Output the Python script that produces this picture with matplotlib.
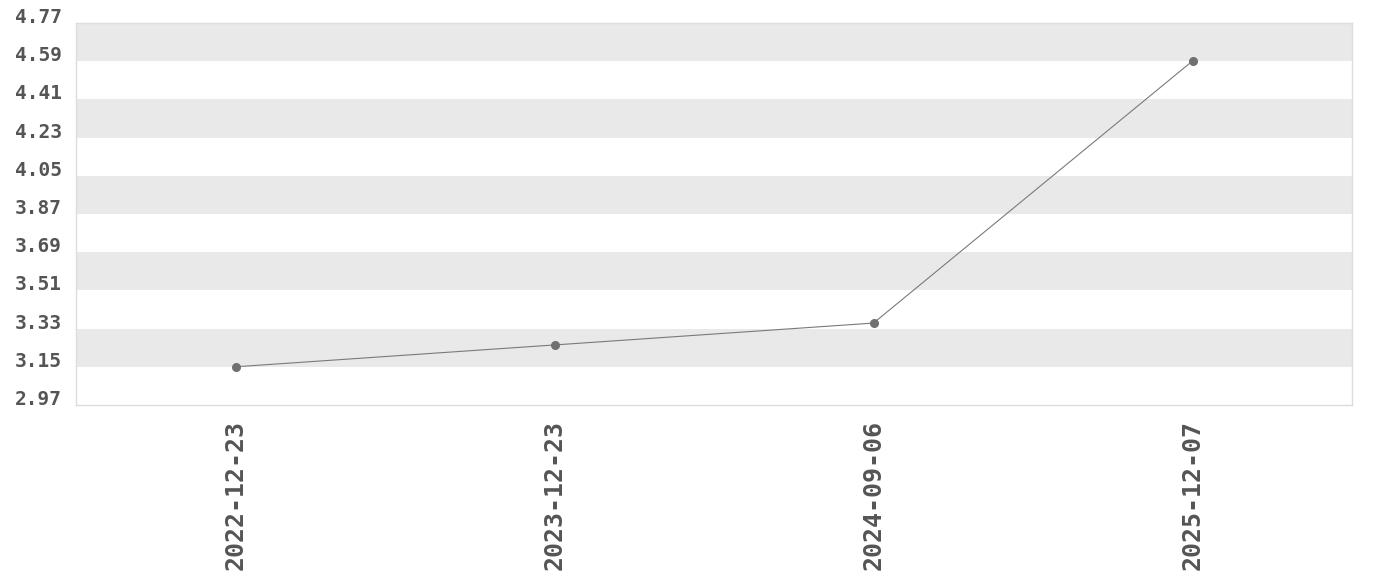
import numpy as np
import matplotlib
matplotlib.use("Agg")
import matplotlib.pyplot as plt

# data
dates = ["2022-12-23", "2023-12-23", "2024-09-06", "2025-12-07"]
values = [3.15, 3.253, 3.356, 4.591]
y_ticks = [2.97, 3.15, 3.33, 3.51, 3.69, 3.87, 4.05, 4.23, 4.41, 4.59, 4.77]

plt.rcParams["font.family"] = ["DejaVu Sans Mono", "DejaVu Sans"]
plt.rcParams["font.weight"] = "bold"

fig = plt.figure(figsize=(13.8, 5.8), dpi=100)
ax = fig.add_axes([76 / 1380, 1 - 405 / 580, 1276 / 1380, 382 / 580])

# alternating horizontal bands, gray on every other interval from the top
for i in range(len(y_ticks) - 1):
    if (len(y_ticks) - 2 - i) % 2 == 0:
        ax.axhspan(y_ticks[i], y_ticks[i + 1], color="#e9e9e9", lw=0, zorder=0)

x = np.arange(len(dates))
ax.plot(x, values, color="#7a7a7a", lw=0.8, marker="o", markersize=5.5,
        markerfacecolor="#707070", markeredgecolor="#707070", zorder=3)

ax.set_xlim(-0.5, len(dates) - 0.5)
ax.set_ylim(y_ticks[0], y_ticks[-1])
ax.set_yticks(y_ticks)
ax.set_yticklabels([f"{t:.2f}" for t in y_ticks], va="baseline")
ax.set_xticks(x)
ax.set_xticklabels(dates, rotation=90)

ax.tick_params(axis="y", length=0, pad=10, labelsize=14, labelcolor="#555555")
ax.tick_params(axis="x", length=0, pad=11, labelsize=18, labelcolor="#555555")

for side in ["left", "right", "top", "bottom"]:
    ax.spines[side].set_color("#dddddd")
    ax.spines[side].set_linewidth(1)

fig.savefig("out.png", dpi=100)
